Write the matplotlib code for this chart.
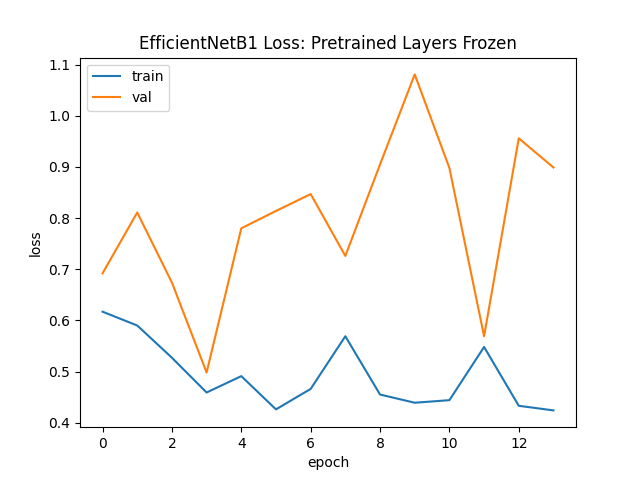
import matplotlib
matplotlib.use("Agg")
import matplotlib.pyplot as plt

epochs = list(range(14))
train_loss = [0.617, 0.590, 0.527, 0.459, 0.491, 0.426, 0.466, 0.569, 0.455, 0.439, 0.444, 0.548, 0.433, 0.424]
val_loss = [0.692, 0.811, 0.674, 0.498, 0.780, 0.814, 0.847, 0.726, 0.905, 1.081, 0.898, 0.569, 0.956, 0.899]

plt.figure(figsize=(6.4, 4.8), dpi=100)
plt.plot(epochs, train_loss, label="train")
plt.plot(epochs, val_loss, label="val")
plt.title("EfficientNetB1 Loss: Pretrained Layers Frozen")
plt.xlabel("epoch")
plt.ylabel("loss")
plt.legend(loc="upper left")
plt.savefig("out.png")
plt.close()
